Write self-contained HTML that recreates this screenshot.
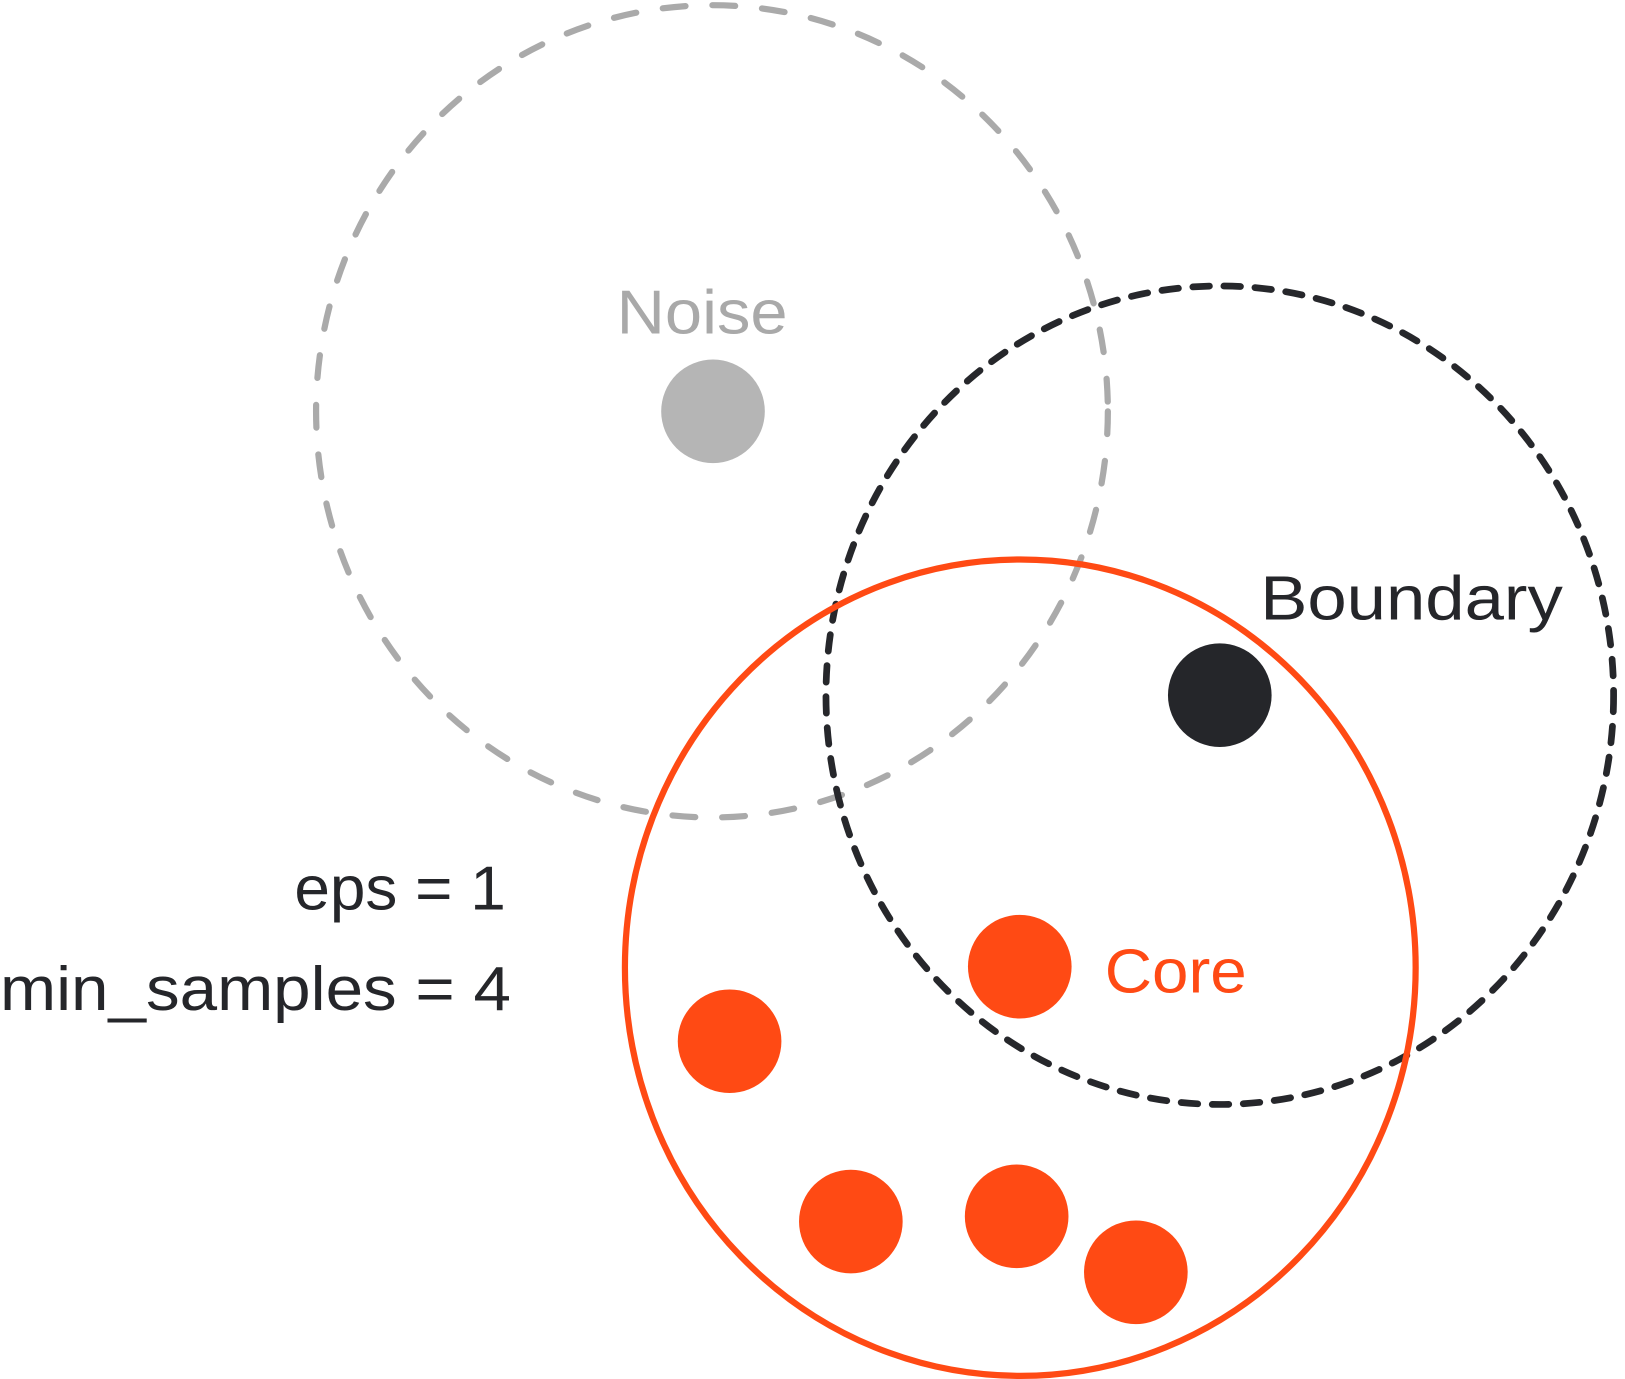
<!DOCTYPE html>
<html><head><meta charset="utf-8"><style>
html,body{margin:0;padding:0;background:#fff;}
svg{display:block;}
text{font-family:"Liberation Sans","DejaVu Sans",sans-serif;font-size:60px;}
</style></head><body>
<svg width="1625" height="1379" viewBox="0 0 1568 1331" preserveAspectRatio="none" xmlns="http://www.w3.org/2000/svg">
<ellipse cx="687" cy="397" rx="382" ry="392" fill="none" stroke="#aaaaaa" stroke-width="6" stroke-dasharray="22 26" stroke-linecap="round"/>
<ellipse cx="1177" cy="671" rx="380" ry="395" fill="none" stroke="#26272b" stroke-width="6.5" stroke-dasharray="16 14" stroke-linecap="round"/>
<ellipse cx="984.5" cy="934" rx="381.5" ry="394" fill="none" stroke="#ff4a14" stroke-width="6"/>
<circle cx="688" cy="397" r="50" fill="#b5b5b5"/>
<circle cx="1177" cy="671" r="50" fill="#25262a"/>
<circle cx="984" cy="933" r="50" fill="#ff4a14"/>
<circle cx="704" cy="1005" r="50" fill="#ff4a14"/>
<circle cx="821" cy="1179" r="50" fill="#ff4a14"/>
<circle cx="981" cy="1174" r="50" fill="#ff4a14"/>
<circle cx="1096" cy="1228" r="50" fill="#ff4a14"/>
<text x="595" y="322" fill="#a9a9a9" textLength="165" lengthAdjust="spacingAndGlyphs">Noise</text>
<text x="1216" y="598" fill="#25262a" textLength="292" lengthAdjust="spacingAndGlyphs">Boundary</text>
<text x="1066" y="958" fill="#ff4a14" textLength="137" lengthAdjust="spacingAndGlyphs">Core</text>
<text x="284" y="878" fill="#25262a" textLength="204" lengthAdjust="spacingAndGlyphs">eps = 1</text>
<text x="0" y="975" fill="#25262a" textLength="493" lengthAdjust="spacingAndGlyphs">min_samples = 4</text>
</svg>
</body></html>
